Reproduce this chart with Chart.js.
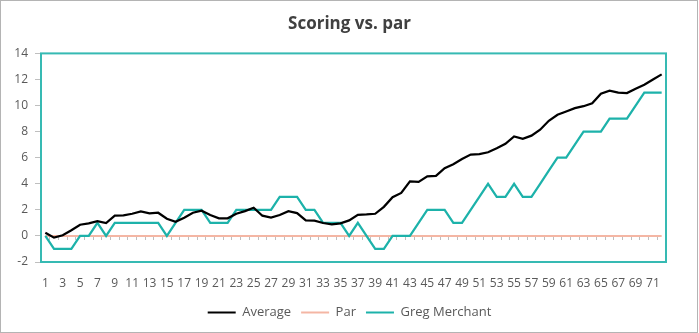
<!DOCTYPE html>
<html>
<head>
<meta charset="utf-8">
<script src="https://cdn.jsdelivr.net/npm/chart.js@4.4.1/dist/chart.umd.min.js"></script>
<style>
  html, body { margin: 0; padding: 0; background: #ffffff; }
  #wrap { position: relative; width: 699px; height: 333px; }
  #frame { position: absolute; left: 0; top: 0; width: 698px; height: 333px; box-sizing: border-box; border: 1px solid #b4b4b4; pointer-events: none; }
  canvas { display: block; }
</style>
</head>
<body>
<div id="wrap">
  <canvas id="c" width="699" height="333"></canvas>
  <div id="frame"></div>
</div>
<script>
const holes = ["1","2","3","4","5","6","7","8","9","10","11","12","13","14","15","16","17","18","19","20","21","22","23","24","25","26","27","28","29","30","31","32","33","34","35","36","37","38","39","40","41","42","43","44","45","46","47","48","49","50","51","52","53","54","55","56","57","58","59","60","61","62","63","64","65","66","67","68","69","70","71","72"];

const average = [0.25,-0.13,0.05,0.43,0.86,0.96,1.14,0.99,1.55,1.57,1.70,1.88,1.73,1.78,1.32,1.09,1.40,1.78,1.93,1.60,1.35,1.35,1.70,1.90,2.16,1.55,1.40,1.60,1.90,1.75,1.19,1.17,0.99,0.89,0.96,1.19,1.62,1.65,1.70,2.23,2.97,3.30,4.19,4.14,4.57,4.60,5.20,5.50,5.90,6.24,6.27,6.42,6.73,7.06,7.63,7.44,7.69,8.15,8.83,9.29,9.54,9.80,9.95,10.18,10.91,11.14,10.99,10.96,11.29,11.60,12.00,12.39];

const par = [0,0,0,0,0,0,0,0,0,0,0,0,0,0,0,0,0,0,0,0,0,0,0,0,0,0,0,0,0,0,0,0,0,0,0,0,0,0,0,0,0,0,0,0,0,0,0,0,0,0,0,0,0,0,0,0,0,0,0,0,0,0,0,0,0,0,0,0,0,0,0,0];

const gregMerchant = [0,-1,-1,-1,0,0,1,0,1,1,1,1,1,1,0,1,2,2,2,1,1,1,2,2,2,2,2,3,3,3,2,2,1,1,1,0,1,0,-1,-1,0,0,0,1,2,2,2,1,1,2,3,4,3,3,4,3,3,4,5,6,6,7,8,8,8,9,9,9,10,11,11,11];

const yTicks = [-2, 0, 2, 4, 6, 8, 10, 12, 14];

const FONT = "'Open Sans', 'Noto Sans', sans-serif";
const TEAL = '#1DB2AA';

const framePlugin = {
  id: 'plotFrame',
  afterDatasetsDraw(chart) {
    const a = chart.chartArea;
    const ctx = chart.ctx;
    ctx.save();
    ctx.strokeStyle = '#36BAB3';
    ctx.lineWidth = 2;
    ctx.strokeRect(a.left, a.top, a.right - a.left, a.bottom - a.top);
    ctx.restore();
  }
};

new Chart(document.getElementById('c'), {
  type: 'line',
  data: {
    labels: holes,
    datasets: [
      { label: 'Average', data: average, borderColor: '#000000', backgroundColor: '#000000', borderWidth: 2.25, pointRadius: 0, tension: 0, xAxisID: 'x' },
      { label: 'Par', data: par, borderColor: '#F4B6A4', backgroundColor: '#F4B6A4', borderWidth: 2, pointRadius: 0, tension: 0, xAxisID: 'x', order: 5 },
      { label: 'Greg Merchant', data: gregMerchant, borderColor: TEAL, backgroundColor: TEAL, borderWidth: 2.25, pointRadius: 0, tension: 0, xAxisID: 'x' }
    ]
  },
  options: {
    responsive: false,
    animation: false,
    events: [],
    layout: { padding: { left: 0, right: 0, top: 0, bottom: 4 } },
    plugins: {
      title: {
        display: true,
        text: 'Scoring vs. par',
        color: '#404040',
        font: { family: FONT, size: 17, weight: 'bold' },
        padding: { top: 14, bottom: 19 }
      },
      legend: {
        display: true,
        position: 'bottom',
        labels: {
          color: '#595959',
          font: { family: FONT, size: 13 },
          boxWidth: 28,
          boxHeight: 2,
          padding: 10,
          sort(a, b) { return a.datasetIndex - b.datasetIndex; },
          generateLabels(chart) {
            return Chart.defaults.plugins.legend.labels.generateLabels(chart).map(l => Object.assign(l, { lineWidth: 0, fillStyle: l.strokeStyle }));
          }
        }
      },
      tooltip: { enabled: false }
    },
    scales: {
      x: {
        type: 'category',
        position: { y: 0 },
        offset: true,
        grid: { display: true, drawOnChartArea: false, drawTicks: true, tickLength: 4, color: '#BFBFBF', offset: true },
        border: { display: false },
        ticks: { display: false, autoSkip: false }
      },
      x2: {
        type: 'category',
        labels: holes,
        position: 'bottom',
        offset: true,
        grid: { display: false },
        border: { display: false },
        ticks: {
          autoSkip: false,
          maxRotation: 0,
          minRotation: 0,
          padding: 6,
          color: '#595959',
          font: { family: FONT, size: 12 },
          callback(v, i) { return i % 2 === 0 ? holes[i] : ''; }
        },
        afterFit(s) { s.height = 34; }
      },
      y: {
        min: -2,
        max: 14,
        afterBuildTicks(s) { s.ticks = yTicks.map(v => ({ value: v })); },
        grid: { display: true, drawOnChartArea: false, drawTicks: true, tickLength: 6, color: '#BFBFBF' },
        border: { display: false },
        ticks: { padding: 7, color: '#595959', font: { family: FONT, size: 12 } },
        afterFit(s) { s.width = 41; }
      },
      yRight: {
        type: 'linear',
        position: 'right',
        display: true,
        grid: { display: false },
        border: { display: false },
        ticks: { display: false },
        afterFit(s) { s.width = 33; }
      }
    }
  },
  plugins: [framePlugin]
});
</script>
</body>
</html>
